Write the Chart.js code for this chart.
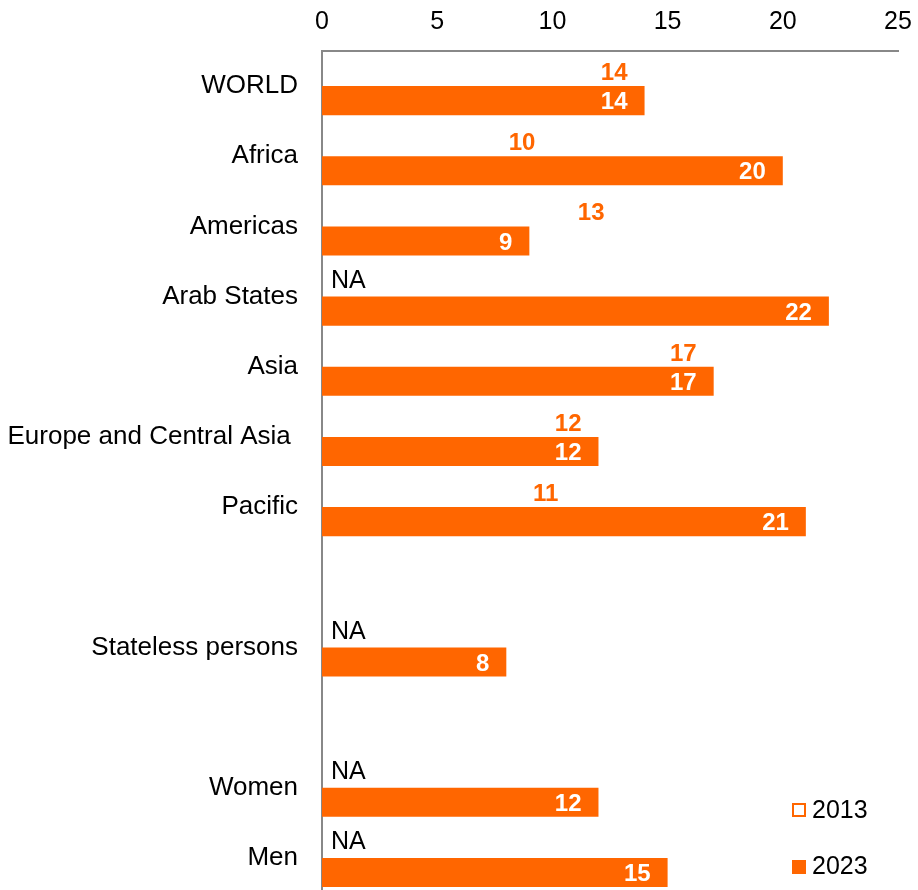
<!DOCTYPE html>
<html lang="en">
<head>
    <meta charset="UTF-8">
    <title>Share by region, 2013 vs 2023</title>
    <script src="https://cdn.jsdelivr.net/npm/chart.js"></script>
    <style>
        body { margin: 0; background: #fff; }
        .chart-box { width: 918px; height: 890px; overflow: hidden; }
    </style>
</head>
<body>
    <div class="chart-box">
        <!-- plot runs a few px past the bottom edge, as in the original -->
        <canvas id="regionChart" width="918" height="893"></canvas>
    </div>

    <script>
        const categories = ['WORLD', 'Africa', 'Americas', 'Arab States', 'Asia',
            'Europe and Central Asia ', 'Pacific', '', 'Stateless persons', '', 'Women', 'Men'];
        const values2013 = [14, 10, 13, null, 17, 12, 11, null, null, null, null, null];
        const values2023 = [14, 20, 9, 22, 17, 12, 21, null, 8, null, 12, 15];
        const naRows = [3, 8, 10, 11];
        const xTicks = [0, 5, 10, 15, 20, 25];

        const ORANGE = '#FF6600';
        const FONT = '"Liberation Sans", Arial, sans-serif';

        // value labels, NA markers and the small legend in the corner
        const labelPlugin = {
            id: 'labels',
            afterDatasetsDraw(chart) {
                const ctx = chart.ctx;
                const m13 = chart.getDatasetMeta(0);
                const m23 = chart.getDatasetMeta(1);
                ctx.save();
                ctx.textBaseline = 'middle';
                ctx.font = 'bold 24px ' + FONT;
                ctx.textAlign = 'right';

                m13.data.forEach((bar, i) => {
                    if (values2013[i] == null) return;
                    ctx.fillStyle = ORANGE;
                    ctx.fillText(values2013[i], bar.x - 17, bar.y + 2);
                });
                m23.data.forEach((bar, i) => {
                    if (values2023[i] == null) return;
                    ctx.fillStyle = '#fff';
                    ctx.fillText(values2023[i], bar.x - 17, bar.y + 2);
                });

                ctx.font = '25px ' + FONT;
                ctx.textAlign = 'left';
                ctx.fillStyle = '#000';
                const left = chart.scales.x.getPixelForValue(0);
                naRows.forEach(i => {
                    const bar = m23.data[i];
                    ctx.fillText('NA', left + 9, bar.y - bar.height - 1);
                });

                // legend
                ctx.font = '25px ' + FONT;
                ctx.strokeStyle = ORANGE;
                ctx.lineWidth = 2;
                ctx.strokeRect(793, 804, 12, 12);
                ctx.fillStyle = '#000';
                ctx.fillText('2013', 812, 811);
                ctx.fillStyle = ORANGE;
                ctx.fillRect(792, 860, 14, 14);
                ctx.fillStyle = '#000';
                ctx.fillText('2023', 812, 867);
                ctx.restore();
            }
        };

        new Chart(document.getElementById('regionChart'), {
            type: 'bar',
            data: {
                labels: categories,
                datasets: [
                    {
                        label: '2013',
                        data: values2013,
                        backgroundColor: 'rgba(0,0,0,0)',
                        borderWidth: 0
                    },
                    {
                        label: '2023',
                        data: values2023,
                        backgroundColor: ORANGE,
                        borderWidth: 0
                    }
                ]
            },
            options: {
                indexAxis: 'y',
                responsive: false,
                animation: false,
                layout: { padding: { top: 0, right: 20, bottom: 0, left: 0 } },
                datasets: {
                    bar: { barPercentage: 1, categoryPercentage: 0.83 }
                },
                plugins: {
                    legend: { display: false },
                    tooltip: { enabled: false }
                },
                scales: {
                    x: {
                        position: 'top',
                        min: 0,
                        max: 25,
                        afterBuildTicks: scale => {
                            scale.ticks = xTicks.map(v => ({ value: v }));
                        },
                        afterFit: scale => {
                            scale.height = 51;
                            scale.paddingLeft = 0;
                            scale.paddingRight = 0;
                        },
                        grid: { display: false },
                        border: { display: true, color: '#888', width: 2 },
                        ticks: {
                            padding: 6,
                            color: '#000',
                            font: { family: FONT, size: 25 }
                        }
                    },
                    y: {
                        afterFit: scale => {
                            scale.width = 322;
                            scale.paddingTop = 0;
                            scale.paddingBottom = 0;
                        },
                        grid: { display: false },
                        border: { display: true, color: '#888', width: 2 },
                        ticks: {
                            padding: 16,
                            autoSkip: false,
                            color: '#000',
                            font: { family: FONT, size: 26 }
                        }
                    }
                }
            },
            plugins: [labelPlugin]
        });
    </script>
</body>
</html>
